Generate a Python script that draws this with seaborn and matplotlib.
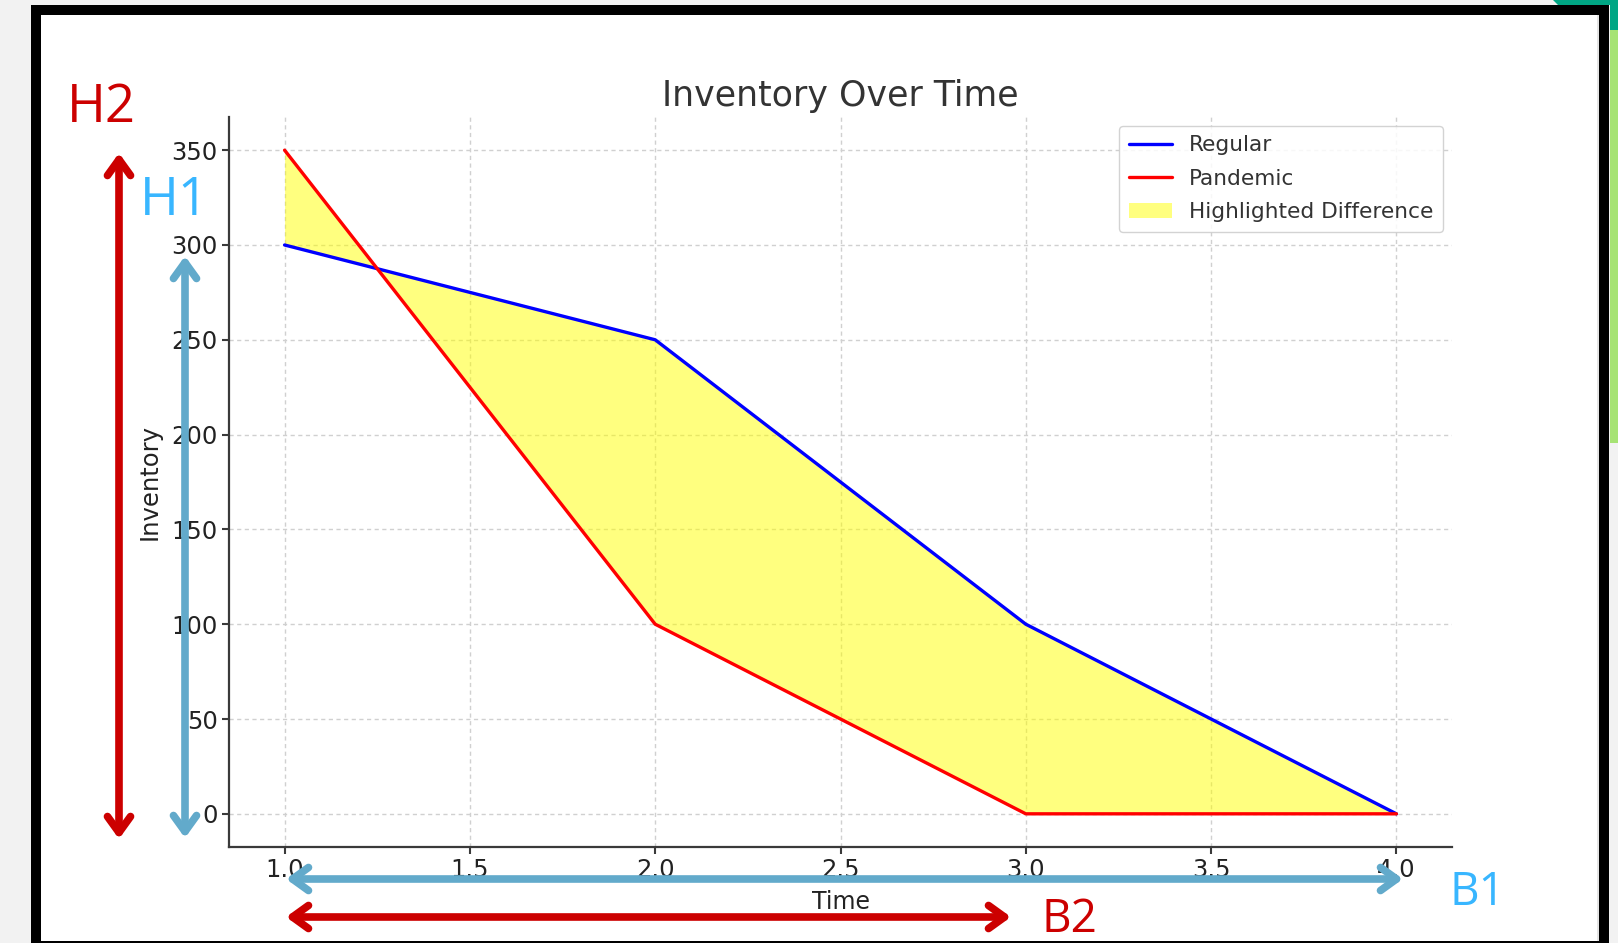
import matplotlib
matplotlib.use("Agg")
import matplotlib.pyplot as plt
from matplotlib.patches import Rectangle, Polygon, FancyArrowPatch, ArrowStyle, Patch
from matplotlib.lines import Line2D
import pandas as pd
import seaborn as sns

# ---- data ----
time = [1, 2, 3, 4]
regular = [300, 250, 100, 0]
pandemic = [350, 100, 0, 0]
series_names = ["Regular", "Pandemic"]
series_colors = ["blue", "red"]
fill_label = "Highlighted Difference"
title = "Inventory Over Time"
x_label = "Time"
y_label = "Inventory"
x_ticks = [1.0, 1.5, 2.0, 2.5, 3.0, 3.5, 4.0]
y_ticks = [0, 50, 100, 150, 200, 250, 300, 350]

# ---- canvas ----
W, H = 1618, 943
sns.set_style("ticks")
plt.rcParams["font.family"] = ["DejaVu Sans"]

fig = plt.figure(figsize=(W / 100, H / 100), dpi=100, facecolor="#f2f2f2")


def fx(x):
    return x / W


def fy(y):
    return 1 - y / H


def rect(x0, y0, x1, y1, color, z):
    fig.add_artist(Rectangle((fx(x0), fy(y1)), fx(x1) - fx(x0), fy(y0) - fy(y1),
                             transform=fig.transFigure, facecolor=color,
                             edgecolor="none", zorder=z))


# frame around the chart
rect(31, 5, 1609, 943, "black", -10)
rect(41, 15, 1599, 941, "white", -9)
rect(1597, 15, 1599, 941, "#e4e4e4", -8)
rect(1610, 30, 1618, 443, "#a6e374", -9)
fig.add_artist(Polygon([(fx(1553), fy(0)), (fx(1618), fy(0)), (fx(1618), fy(30)),
                        (fx(1610), fy(30)), (fx(1610), fy(5)), (fx(1558), fy(5))],
                       closed=True, transform=fig.transFigure, facecolor="#00a684",
                       edgecolor="none", zorder=-8))

# ---- chart ----
ax = fig.add_axes([fx(229), fy(847), fx(1452) - fx(229), fy(117) - fy(847)])
ax.set_facecolor("white")

df = pd.DataFrame({
    "Time": time * 2,
    "Inventory": regular + pandemic,
    "Scenario": [series_names[0]] * len(time) + [series_names[1]] * len(time),
})
sns.lineplot(data=df, x="Time", y="Inventory", hue="Scenario",
             palette=dict(zip(series_names, series_colors)),
             linewidth=2.4, ax=ax, legend=False, zorder=3)
ax.fill_between(time, regular, pandemic, color="yellow", alpha=0.5, linewidth=0, zorder=1)

ax.set_xlim(0.85, 4.15)
ax.set_ylim(-17.5, 367.5)
ax.set_xticks(x_ticks)
ax.set_yticks(y_ticks)
ax.set_xticklabels([f"{v:.1f}" for v in x_ticks])
ax.set_yticklabels([str(v) for v in y_ticks])

ax.grid(True, linestyle=(0, (3, 2.5)), color="#d0d0d0", linewidth=1.0, zorder=0)
ax.set_axisbelow(True)
for s in ["top", "right"]:
    ax.spines[s].set_visible(False)
for s in ["left", "bottom"]:
    ax.spines[s].set_color("#3a3a3a")
    ax.spines[s].set_linewidth(1.6)
ax.tick_params(labelsize=17.5, colors="#3a3a3a", labelcolor="#222222",
               length=5, width=1.5, pad=3)

ax.set_title(title, fontsize=25, color="#333333", pad=8)
ax.set_xlabel(x_label, fontsize=17, color="#222222", labelpad=6)
ax.set_ylabel(y_label, fontsize=17.5, color="#222222", labelpad=7)

handles = [Line2D([], [], color=c, linewidth=2.4) for c in series_colors]
handles.append(Patch(facecolor="yellow", alpha=0.5, edgecolor="none"))
leg = ax.legend(handles, series_names + [fill_label], loc="upper right",
                fontsize=15.6, frameon=True, fancybox=True, framealpha=0.85,
                edgecolor="#cccccc", labelcolor="#333333", borderpad=0.45,
                labelspacing=0.62, handlelength=2.0, handletextpad=0.8,
                borderaxespad=0.4)

# ---- overlay arrows and tags ----
RED = "#cc0000"
BLUE_ARROW = "#62aacb"
BLUE_TEXT = "#38b6ff"


def arrow(x0, y0, x1, y1, color):
    fig.add_artist(FancyArrowPatch((fx(x0), fy(y0)), (fx(x1), fy(y1)),
                                   transform=fig.transFigure,
                                   arrowstyle=ArrowStyle("<->", head_length=11.5, head_width=8.3),
                                   mutation_scale=1, linewidth=5.5, color=color,
                                   capstyle="round", joinstyle="round",
                                   shrinkA=0, shrinkB=0, zorder=5))


def tag(x, y, s, color, size):
    fig.text(fx(x), fy(y), s, color=color, fontsize=size, family="Open Sans",
             ha="left", va="baseline", zorder=6)


arrow(119, 153, 119, 839, RED)
arrow(185, 256, 185, 838, BLUE_ARROW)
arrow(286, 879, 1403, 879, BLUE_ARROW)
arrow(286, 917, 1011, 917, RED)

tag(67, 122, "H2", RED, 38)
tag(140, 215, "H1", BLUE_TEXT, 38)
tag(1450, 905, "B1", BLUE_TEXT, 33)
tag(1041, 932, "B2", RED, 33)

fig.savefig("out.png", dpi=100, facecolor=fig.get_facecolor())
